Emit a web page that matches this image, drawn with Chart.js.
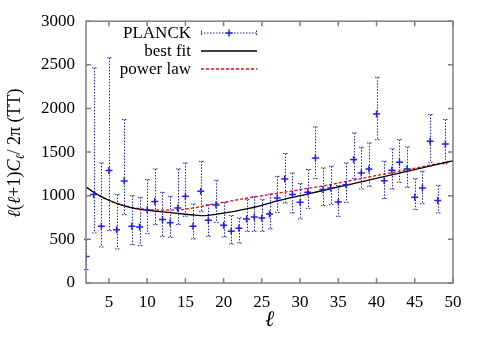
<!DOCTYPE html>
<html>
<head>
<meta charset="utf-8">
<script src="https://cdn.jsdelivr.net/npm/chart.js@4.4.0/dist/chart.umd.min.js"></script>
<style>
  body { margin: 0; background: #fff; }
  #wrap { width: 485px; height: 339px; }
</style>
</head>
<body>
<div id="wrap"><canvas id="clChart" width="485" height="339"></canvas></div>
<script>
// PLANCK TT low-l points
const ell = [2, 3, 4, 5, 6, 7, 8, 9, 10, 11, 12, 13, 14, 15, 16, 17, 18, 19, 20, 21, 22, 23, 24, 25,
             26, 27, 28, 29, 30, 31, 32, 33, 34, 35, 36, 37, 38, 39, 40, 41, 42, 43, 44, 45, 46, 47, 48, 49];
const clPlanck = [305, 1013, 650, 1290, 610, 1170, 650, 641, 840, 935, 728, 690, 860, 993, 649, 1050, 718, 894, 661, 592, 626, 734, 757, 745,
                  791, 975, 1193, 1013, 924, 1039, 1433, 1070, 1089, 929, 1127, 1414, 1261, 1307, 1938, 1173, 1292, 1384, 1307, 982, 1089, 1624, 944, 1594];
const clLow = [153, 573, 413, 600, 390, 783, 439, 428, 565, 669, 535, 523, 669, 764, 505, 821, 535, 695, 527, 447, 459, 592, 592, 592,
               620, 810, 917, 803, 734, 856, 1196, 886, 898, 764, 924, 1196, 1078, 1108, 1643, 967, 1078, 1154, 1097, 841, 909, 1383, 803, 1365];
const clHigh = [497, 2465, 1376, 2580, 1013, 1873, 1001, 982, 1185, 1307, 1039, 993, 1307, 1376, 906, 1394, 898, 1177, 924, 772, 745, 955, 993, 955,
                1020, 1222, 1483, 1261, 1139, 1300, 1789, 1319, 1337, 1116, 1376, 1720, 1555, 1605, 2358, 1395, 1537, 1643, 1560, 1196, 1280, 1930, 1119, 1873];

// model curves
const ellModel = [2, 3, 4, 5, 6, 7, 8, 9, 10, 11, 12, 13, 14, 15, 16, 17, 18, 19, 20, 21, 22, 23, 24, 25, 26,
                  27, 28, 29, 30, 31, 32, 33, 34, 35, 36, 37, 38, 39, 40, 41, 42, 43, 44, 45, 46, 47, 48, 49, 50];
const bestFit = [1100, 1040, 990, 948, 912, 884, 862, 846, 834, 824, 815, 806, 797, 788, 779, 773, 776, 786, 800, 815, 832, 850, 868, 890, 915,
                 940, 962, 982, 1000, 1020, 1040, 1060, 1080, 1100, 1120, 1140, 1160, 1180, 1200, 1220, 1240, 1260, 1280, 1300, 1320, 1340, 1360, 1380, 1400];
const powerLaw = [1100, 1040, 990, 948, 913, 886, 866, 852, 842, 836, 834, 835, 838, 845, 860, 876, 892, 908, 924, 940, 956, 971, 986, 1000, 1014,
                  1028, 1042, 1056, 1070, 1084, 1098, 1112, 1129, 1146, 1163, 1180, 1197, 1214, 1231, 1248, 1265, 1282, 1299, 1316, 1333, 1350, 1367, 1384, 1400];

const xTicks = [5, 10, 15, 20, 25, 30, 35, 40, 45, 50];
const yTicks = [0, 500, 1000, 1500, 2000, 2500, 3000];

const FONT = "'Liberation Serif', 'Times New Roman', serif";
const BLUE = '#1e1eff';
const AXIS_GREY = '#7f7f7f';

Chart.defaults.font.family = FONT;
Chart.defaults.color = '#000';

// dotted vertical error bars with small caps
const errorBarPlugin = {
    id: 'errorBars',
    beforeDatasetsDraw(chart) {
        const { ctx, scales: { x, y } } = chart;
        ctx.save();
        ctx.strokeStyle = BLUE;
        ctx.lineWidth = 1;
        ctx.setLineDash([1.5, 1.5]);
        ell.forEach((l, i) => {
            const px = Math.round(x.getPixelForValue(l)) + 0.5;
            const top = y.getPixelForValue(clHigh[i]);
            const bot = y.getPixelForValue(clLow[i]);
            ctx.beginPath();
            ctx.moveTo(px, top);
            ctx.lineTo(px, bot);
            ctx.moveTo(px - 2.5, top);
            ctx.lineTo(px + 2.5, top);
            ctx.moveTo(px - 2.5, bot);
            ctx.lineTo(px + 2.5, bot);
            ctx.stroke();
        });
        ctx.restore();
    }
};

// gnuplot style border with inward tics on all four sides
const framePlugin = {
    id: 'frame',
    afterDraw(chart) {
        const { ctx, chartArea: a, scales: { x, y } } = chart;
        ctx.save();
        ctx.strokeStyle = AXIS_GREY;
        ctx.lineWidth = 1.5;
        ctx.strokeRect(a.left, a.top, a.right - a.left, a.bottom - a.top);
        ctx.beginPath();
        xTicks.forEach(v => {
            const px = x.getPixelForValue(v);
            ctx.moveTo(px, a.bottom);
            ctx.lineTo(px, a.bottom - 5);
            ctx.moveTo(px, a.top);
            ctx.lineTo(px, a.top + 5);
        });
        yTicks.forEach(v => {
            const py = y.getPixelForValue(v);
            ctx.moveTo(a.left, py);
            ctx.lineTo(a.left + 5, py);
            ctx.moveTo(a.right, py);
            ctx.lineTo(a.right - 5, py);
        });
        ctx.stroke();
        ctx.restore();
    }
};

// key in the top of the plot, text right aligned, sample on the right
const keyPlugin = {
    id: 'key',
    afterDraw(chart) {
        const ctx = chart.ctx;
        const textRight = 191, x0 = 201, x1 = 257;
        ctx.save();
        ctx.font = '17px ' + FONT;
        ctx.textAlign = 'right';
        ctx.textBaseline = 'middle';
        chart.data.datasets.forEach((ds, i) => {
            const yy = 33 + i * 18;
            ctx.fillStyle = '#000';
            ctx.fillText(ds.label, textRight, yy + 1);
            ctx.strokeStyle = ds.borderColor;
            if (i === 0) {
                ctx.lineWidth = 1;
                ctx.setLineDash([1.5, 1.5]);
                ctx.beginPath();
                ctx.moveTo(x0, yy); ctx.lineTo(x1, yy);
                ctx.moveTo(x0 + 0.5, yy - 2.5); ctx.lineTo(x0 + 0.5, yy + 2.5);
                ctx.moveTo(x1 - 0.5, yy - 2.5); ctx.lineTo(x1 - 0.5, yy + 2.5);
                ctx.stroke();
                ctx.setLineDash([]);
                ctx.lineWidth = 1.5;
                const mid = (x0 + x1) / 2;
                ctx.beginPath();
                ctx.moveTo(mid - 3.5, yy); ctx.lineTo(mid + 3.5, yy);
                ctx.moveTo(mid, yy - 3.5); ctx.lineTo(mid, yy + 3.5);
                ctx.stroke();
            } else {
                ctx.lineWidth = ds.borderWidth;
                ctx.setLineDash(ds.borderDash || []);
                ctx.beginPath();
                ctx.moveTo(x0, yy); ctx.lineTo(x1, yy);
                ctx.stroke();
            }
        });
        ctx.restore();
    }
};

// rotated y title with italic l, C and subscript
const yTitlePlugin = {
    id: 'yTitle',
    afterDraw(chart) {
        const ctx = chart.ctx;
        const parts = [
            ['ℓ', 'italic 18px'], ['(', '18px'], ['ℓ', 'italic 18px'], ['+1)', '18px'],
            ['C', 'italic 18px'], ['ℓ', 'italic 12px', 4], ['/ 2π (TT)', '18px']
        ];
        ctx.save();
        ctx.fillStyle = '#000';
        ctx.textBaseline = 'alphabetic';
        let total = 0;
        parts.forEach(p => { ctx.font = p[1] + ' ' + FONT; total += ctx.measureText(p[0]).width; });
        ctx.translate(20, (chart.chartArea.top + chart.chartArea.bottom) / 2 + 1);
        ctx.rotate(-Math.PI / 2);
        let cx = -total / 2;
        parts.forEach(p => {
            ctx.font = p[1] + ' ' + FONT;
            ctx.fillText(p[0], cx, p[2] || 0);
            cx += ctx.measureText(p[0]).width;
        });
        ctx.restore();
    }
};

const tickFont = { family: FONT, size: 17 };

const ctx = document.getElementById('clChart').getContext('2d');
new Chart(ctx, {
    type: 'scatter',
    data: {
        datasets: [{
            label: 'PLANCK',
            data: ell.map((l, i) => ({ x: l, y: clPlanck[i] })),
            pointStyle: 'cross',
            pointRadius: 3.5,
            borderColor: BLUE,
            backgroundColor: BLUE,
            pointBorderWidth: 1.5,
            showLine: false
        }, {
            label: 'best fit',
            type: 'line',
            data: ellModel.map((l, i) => ({ x: l, y: bestFit[i] })),
            borderColor: '#000',
            borderWidth: 1.3,
            pointRadius: 0,
            cubicInterpolationMode: 'monotone',
            fill: false
        }, {
            label: 'power law',
            type: 'line',
            data: ellModel.map((l, i) => ({ x: l, y: powerLaw[i] })),
            borderColor: '#ff0000',
            borderWidth: 1.3,
            borderDash: [3, 2],
            pointRadius: 0,
            cubicInterpolationMode: 'monotone',
            fill: false
        }]
    },
    options: {
        responsive: false,
        animation: false,
        layout: { padding: { top: 21, right: 32, left: 0, bottom: 0 } },
        plugins: {
            legend: { display: false },
            tooltip: { enabled: false }
        },
        scales: {
            x: {
                type: 'linear',
                min: 2,
                max: 50,
                afterBuildTicks: s => { s.ticks = xTicks.map(v => ({ value: v })); },
                afterFit: s => { s.height = 56; },
                grid: { display: false, drawTicks: false },
                border: { display: false },
                ticks: { font: tickFont, color: '#000', padding: 9, maxRotation: 0, autoSkip: false,
                         callback: v => String(v) },
                title: {
                    display: true,
                    text: 'ℓ',
                    font: { family: FONT, size: 22, style: 'italic' },
                    color: '#000',
                    padding: { top: 0, bottom: 6 }
                }
            },
            y: {
                min: 0,
                max: 3000,
                afterBuildTicks: s => { s.ticks = yTicks.map(v => ({ value: v })); },
                afterFit: s => { s.width = 86; },
                grid: { display: false, drawTicks: false },
                border: { display: false },
                ticks: { font: tickFont, color: '#000', padding: 11, callback: v => String(v) }
            }
        }
    },
    plugins: [errorBarPlugin, framePlugin, keyPlugin, yTitlePlugin]
});
</script>
</body>
</html>
